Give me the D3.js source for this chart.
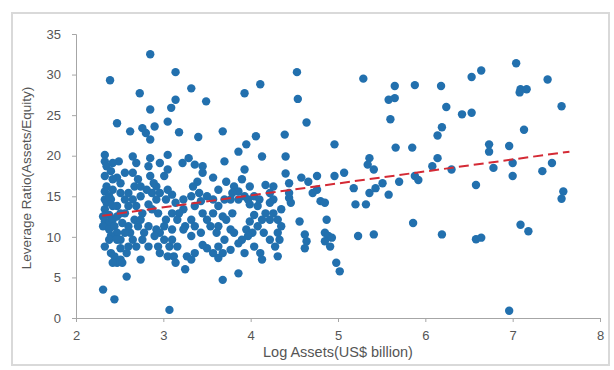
<!DOCTYPE html>
<html>
<head>
<meta charset="utf-8">
<script src="https://cdn.jsdelivr.net/npm/d3@7"></script>
<style>
  body { margin: 0; background: #fff; }
  svg { display: block; font-family: "Liberation Sans", Arial, sans-serif; }
</style>
</head>
<body>
<div id="chart"></div>
<script>
// log assets (x) and leverage ratio (y)
const logAssets = [
  2.85, 2.39, 3.14, 3.32, 2.73, 3.14, 3.09, 2.85, 3.49, 3.93, 4.11, 4.53, 4.54, 4.64, 5.29, 5.65, 5.88, 5.65, 5.58, 5.60,
  6.18, 6.24, 6.19, 6.14, 6.42, 6.53, 6.53, 6.64, 7.04, 7.09, 7.16, 7.08, 7.40, 7.56, 7.13, 6.96, 6.73, 6.73, 7.00, 7.00,
  7.34, 7.45, 7.58, 7.56, 7.09, 7.18, 6.96, 6.78, 6.58, 6.58, 6.64, 6.19, 6.30, 6.14, 6.08, 5.85, 5.66, 5.88, 5.92, 5.86,
  5.58, 5.70, 5.51, 5.43, 5.36, 5.36, 5.34, 5.41, 5.18, 5.20, 5.32, 5.23, 5.41, 5.07, 4.96, 4.96, 4.98, 5.02, 4.87, 4.85,
  4.89, 4.93, 4.85, 4.91, 4.76, 4.80, 4.85, 4.71, 4.66, 4.76, 4.58, 4.56, 4.62, 4.64, 4.62, 4.44, 4.46, 4.40, 4.40, 4.39,
  4.44, 4.35, 4.31, 4.35, 4.31, 4.33, 4.31, 4.28, 4.26, 4.22, 4.26, 4.22, 4.17, 4.22, 4.13, 4.06, 3.95, 3.86, 3.93, 3.90,
  3.81, 3.86, 3.93, 3.97, 4.04, 4.08, 3.99, 4.10, 4.04, 3.99, 4.08, 4.13, 3.95, 4.02, 3.97, 4.04, 4.11, 4.13, 3.93, 3.86,
  3.90, 3.77, 3.86, 3.68, 3.63, 3.68, 3.57, 3.50, 3.63, 3.70, 3.61, 3.77, 3.72, 3.79, 3.68, 3.57, 3.63, 3.70, 3.77, 3.57,
  3.50, 3.63, 3.72, 3.70, 3.68, 3.40, 3.57, 3.45, 3.45, 3.36, 3.29, 3.22, 3.18, 3.05, 3.39, 3.34, 3.41, 3.32, 3.23, 3.43,
  3.36, 3.23, 3.14, 3.18, 3.32, 3.25, 3.36, 3.43, 3.32, 3.23, 3.45, 3.36, 3.27, 3.32, 3.25, 3.16, 3.12, 3.05, 3.07, 3.07,
  3.10, 3.03, 3.05, 3.01, 3.05, 2.96, 3.05, 2.83, 2.85, 2.85, 2.92, 2.96, 2.87, 2.81, 2.74, 2.92, 2.83, 2.87, 2.94, 2.76,
  2.69, 2.65, 2.67, 2.65, 2.71, 2.65, 2.62, 2.76, 2.80, 2.85, 2.90, 2.69, 3.01, 2.92, 2.96, 2.90, 3.01, 2.83, 2.94, 3.10,
  3.10, 2.83, 2.78, 2.71, 2.67, 2.74, 2.62, 2.65, 2.69, 2.74, 2.58, 2.58, 2.60, 2.56, 2.56, 2.60, 2.56, 2.51, 2.51, 2.56,
  2.49, 2.47, 2.47, 2.33, 2.33, 2.35, 2.42, 2.40, 2.33, 2.42, 2.35, 2.33, 2.42, 2.33, 2.35, 2.40, 2.33, 2.38, 2.31, 2.33,
  2.38, 2.31, 2.38, 2.42, 2.47, 2.44, 2.47, 2.40, 2.33, 2.40, 2.44, 2.47, 2.42, 2.51, 2.51, 2.53, 2.31, 2.44, 2.38, 2.47,
  2.51, 2.51, 2.38, 3.10, 3.03, 3.16, 2.96, 3.14, 3.54, 3.50, 3.79, 3.86, 3.81, 3.63, 3.45, 4.22, 4.15, 4.26, 3.99, 4.17,
  4.44, 2.89, 2.74, 2.60, 2.76, 2.60, 2.47, 2.53, 2.42
];
const leverage = [
  32.5, 29.3, 30.3, 28.3, 27.7, 26.9, 25.9, 25.7, 26.7, 27.7, 28.8, 30.3, 27.0, 24.1, 29.5, 28.6, 28.7, 27.1, 26.9, 24.5,
  28.6, 26.0, 23.5, 22.5, 25.1, 25.3, 29.7, 30.5, 31.4, 28.2, 28.2, 27.8, 29.4, 26.1, 23.2, 21.2, 21.4, 20.5, 19.1, 17.5,
  18.1, 19.1, 15.6, 14.7, 11.5, 10.7, 0.9, 18.5, 16.4, 9.7, 9.9, 10.3, 18.3, 19.7, 18.7, 21.0, 21.0, 17.5, 17.0, 11.7,
  15.2, 16.8, 16.6, 16.0, 15.4, 19.7, 18.9, 18.3, 16.0, 14.0, 14.0, 10.1, 10.3, 17.9, 17.5, 21.4, 6.8, 5.75, 12.1, 10.5,
  10.1, 9.9, 9.45, 8.8, 15.8, 14.4, 14.2, 15.4, 16.8, 17.5, 17.3, 11.9, 10.3, 9.45, 8.6, 14.8, 14.2, 17.8, 19.9, 22.6,
  15.4, 13.4, 12.1, 11.3, 10.5, 9.65, 7.6, 8.8, 16.2, 15.4, 14.6, 14.2, 12.9, 12.1, 19.9, 22.4, 21.4, 20.5, 18.3, 17.1,
  16.2, 15.6, 15.0, 14.6, 15.0, 13.8, 14.0, 14.6, 12.7, 11.9, 11.3, 12.1, 10.9, 10.5, 10.1, 8.8, 8.0, 7.2, 8.0, 9.2,
  9.65, 8.4, 5.5, 4.7, 7.4, 8.0, 8.0, 8.6, 8.8, 9.65, 10.5, 10.9, 12.1, 12.9, 12.5, 12.9, 13.8, 14.6, 14.6, 14.6,
  15.0, 15.8, 16.8, 19.3, 23.0, 22.3, 17.3, 17.9, 18.7, 18.9, 19.7, 19.1, 22.9, 24.2, 16.8, 16.2, 15.4, 15.0, 14.6, 14.4,
  13.8, 13.4, 14.2, 12.9, 12.1, 11.3, 11.3, 10.5, 10.1, 10.9, 9.0, 8.0, 7.6, 7.2, 6.0, 8.8, 7.6, 7.6, 8.8, 1.0,
  15.2, 14.6, 15.8, 17.5, 18.3, 19.1, 20.1, 18.7, 19.7, 17.5, 16.2, 15.4, 15.4, 15.8, 15.0, 14.6, 14.0, 13.4, 12.9, 12.9,
  13.8, 14.6, 16.2, 17.9, 17.1, 19.9, 23.0, 23.4, 22.8, 22.0, 23.6, 19.1, 11.3, 10.9, 10.5, 10.1, 9.65, 8.8, 8.8, 9.65,
  10.9, 11.3, 10.5, 11.3, 12.1, 12.1, 10.5, 9.65, 8.8, 7.2, 8.0, 5.1, 11.3, 10.5, 12.9, 13.8, 14.6, 15.4, 16.6, 17.9,
  19.3, 24.0, 17.3, 20.1, 19.3, 18.7, 19.1, 18.1, 17.5, 17.1, 16.2, 15.6, 15.8, 14.6, 14.2, 14.6, 13.4, 12.7, 12.5, 11.9,
  11.7, 11.3, 10.9, 12.1, 12.5, 11.3, 10.5, 10.1, 8.8, 8.0, 7.6, 6.8, 6.8, 7.2, 8.6, 6.8, 3.5, 2.3, 9.65, 13.8,
  12.9, 9.65, 15.0, 12.9, 12.1, 12.1, 8.0, 6.8, 11.3, 12.1, 15.4, 14.6, 10.5, 11.3, 12.9, 9.65, 10.5, 12.9, 16.2, 16.4,
  16.6, 16.6, 16.2, 15.4, 9.65, 8.8, 9.65, 11.7, 13.8
];
// linear trend line end points
const trendX = [2.3, 7.65];
const trendY = [12.6, 20.5];

const xTicks = [2, 3, 4, 5, 6, 7, 8];
const yTicks = [0, 5, 10, 15, 20, 25, 30, 35];

const width = 614;
const height = 370;

const svg = d3.select("#chart").append("svg")
  .attr("width", width)
  .attr("height", height);

// outer frame
svg.append("rect")
  .attr("x", 12).attr("y", 13)
  .attr("width", 597).attr("height", 352)
  .attr("fill", "#fff")
  .attr("stroke", "#d9d9d9")
  .attr("stroke-width", 2);

const x = d3.scaleLinear().domain([2, 8]).range([76, 600]);
const y = d3.scaleLinear().domain([0, 35]).range([318, 34]);

const xAxis = svg.append("g")
  .attr("transform", `translate(0,${y(0)})`)
  .call(d3.axisBottom(x).tickValues(xTicks).tickSize(4).tickPadding(9).tickFormat(d3.format("d")));

const yAxis = svg.append("g")
  .attr("transform", `translate(${x(2)},0)`)
  .call(d3.axisLeft(y).tickValues(yTicks).tickSize(4).tickPadding(11).tickFormat(d3.format("d")));

[xAxis, yAxis].forEach((ax) => {
  ax.select(".domain").attr("stroke", "#a6a6a6");
  ax.selectAll(".tick line").attr("stroke", "#a6a6a6");
  ax.selectAll(".tick text")
    .attr("fill", "#555")
    .style("font-size", "13px")
    .style("font-family", "'Liberation Sans', Arial, sans-serif");
});

const points = logAssets.map((d, i) => ({ x: d, y: leverage[i] }));

svg.append("g")
  .selectAll("circle")
  .data(points)
  .enter()
  .append("circle")
  .attr("cx", (d) => x(d.x))
  .attr("cy", (d) => y(d.y))
  .attr("r", 4.2)
  .attr("fill", "#2270ae");

const line = d3.line()
  .x((d) => x(d[0]))
  .y((d) => y(d[1]));

svg.append("path")
  .datum(trendX.map((d, i) => [d, trendY[i]]))
  .attr("d", line)
  .attr("fill", "none")
  .attr("stroke", "#d42a35")
  .attr("stroke-width", 2)
  .attr("stroke-dasharray", "10,5");

svg.append("text")
  .attr("x", (x(2) + x(8)) / 2)
  .attr("y", 357)
  .attr("text-anchor", "middle")
  .attr("fill", "#555")
  .style("font-size", "14.5px")
  .text("Log Assets(US$ billion)");

svg.append("text")
  .attr("transform", `translate(31,${(y(0) + y(35)) / 2 + 2}) rotate(-90)`)
  .attr("text-anchor", "middle")
  .attr("fill", "#555")
  .style("font-size", "13.5px")
  .text("Leverage Ratio(Assets/Equity)");
</script>
</body>
</html>
